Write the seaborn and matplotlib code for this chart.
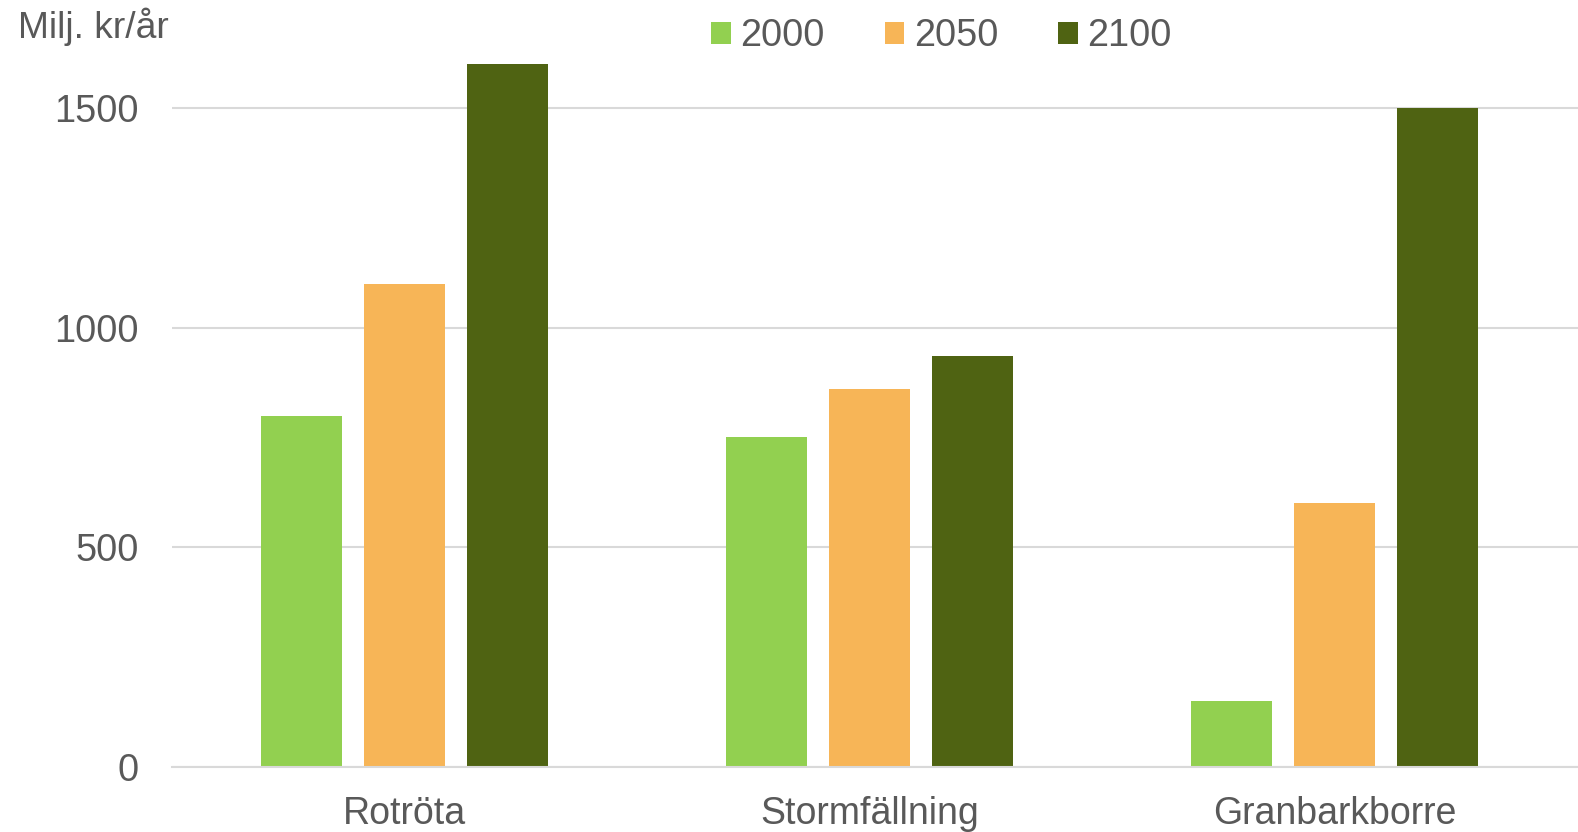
import matplotlib
matplotlib.use('Agg')
import matplotlib.pyplot as plt
import seaborn as sns
import pandas as pd

categories = ['Rotröta', 'Stormfällning', 'Granbarkborre']
years = ['2000', '2050', '2100']
values_2000 = [800, 750, 150]
values_2050 = [1100, 860, 600]
values_2100 = [1600, 935, 1500]
y_ticks = [0, 500, 1000, 1500]

colors = ['#92D050', '#F7B557', '#4F6312']
text_color = '#595959'
grid_color = '#D9D9D9'

rows = []
for year, vals in zip(years, [values_2000, values_2050, values_2100]):
    for cat, v in zip(categories, vals):
        rows.append({'kategori': cat, 'år': year, 'värde': v})
df = pd.DataFrame(rows)

sns.set_theme(style='white')
plt.rcParams['font.family'] = ['Liberation Sans', 'DejaVu Sans']

fig = plt.figure(figsize=(15.78, 8.32), dpi=100)
ax = fig.add_axes([172 / 1578, 65 / 832, 1 - 172 / 1578, (767 - 64) / 832])

sns.barplot(data=df, x='kategori', y='värde', hue='år', order=categories,
            hue_order=years, palette=colors, width=0.6645, gap=0.214,
            saturation=1, linewidth=0, ax=ax)

ax.set_xlim(-0.5, 2.523)
ax.set_ylim(0, 1600)
ax.set_yticks(y_ticks)
ax.set_xlabel('')
ax.set_ylabel('')
ax.yaxis.grid(True, color=grid_color, linewidth=1.5)
ax.set_axisbelow(True)
for s in ['left', 'right', 'top']:
    ax.spines[s].set_visible(False)
ax.spines['bottom'].set_color(grid_color)
ax.spines['bottom'].set_linewidth(1.5)
ax.tick_params(axis='y', length=0, pad=24, labelsize=27.3, labelcolor=text_color)
ax.tick_params(axis='x', length=0, pad=21, labelsize=27, labelcolor=text_color)

sns.move_legend(ax, 'center left', bbox_to_anchor=(677 / 1578, 1 - 36 / 832),
                bbox_transform=fig.transFigure, ncol=3, frameon=False,
                title=None, fontsize=27.3, handlelength=0.52, handleheight=0.52,
                handletextpad=0.25, columnspacing=1.58)
for t in ax.get_legend().get_texts():
    t.set_color(text_color)

fig.text(18 / 1578, 1 - 38 / 832, 'Milj. kr/år', fontsize=26.8, color=text_color,
         ha='left', va='baseline')

fig.savefig('out.png', dpi=100, facecolor='white')
